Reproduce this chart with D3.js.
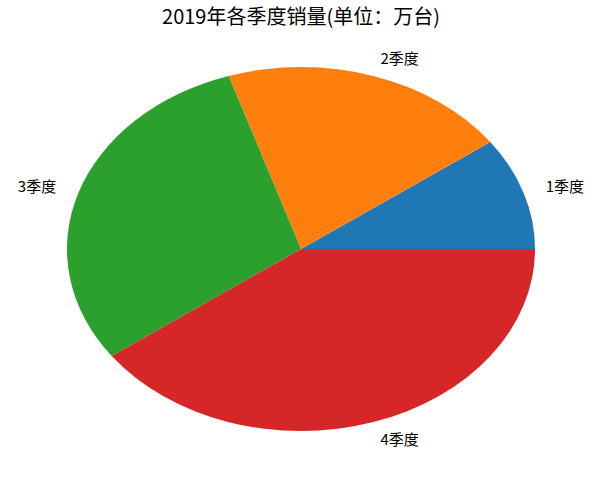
<!DOCTYPE html>
<html>
<head>
<meta charset="utf-8">
<script src="https://cdn.jsdelivr.net/npm/d3@7"></script>
<style>
  body { margin: 0; background: #fff; }
  text { font-family: "Noto Sans CJK SC", "DejaVu Sans", sans-serif; fill: #000; }
</style>
</head>
<body>
<div id="chart"></div>
<script>
// data
const quarters = ["1季度", "2季度", "3季度", "4季度"];
const sales = [10, 20, 30, 40];
const colors = ["#1f77b4", "#ff7f0e", "#2ca02c", "#d62728"];
const title = "2019年各季度销量(单位：万台)";

const W = 598, H = 481;
const cx = 301, cy = 249;
const rx = 234, ry = 182;

const svg = d3.select("#chart").append("svg")
    .attr("width", W)
    .attr("height", H);

svg.append("text")
    .attr("x", cx)
    .attr("y", 24)
    .attr("text-anchor", "middle")
    .style("font-size", "20px")
    .text(title);

// matplotlib style: start at 3 o'clock, go counterclockwise
const pie = d3.pie()
    .sort(null)
    .startAngle(Math.PI / 2)
    .endAngle(Math.PI / 2 - 2 * Math.PI);

const arcs = pie(sales);
const arc = d3.arc().innerRadius(0).outerRadius(1);

const g = svg.append("g")
    .attr("transform", "translate(" + cx + "," + cy + ") scale(" + rx + "," + ry + ")");

g.selectAll("path")
    .data(arcs)
    .join("path")
    .attr("d", arc)
    .attr("fill", function(d, i){ return colors[i]; });

// labels at 1.1 radius along the mid angle
svg.selectAll("text.label")
    .data(arcs)
    .join("text")
    .attr("class", "label")
    .each(function(d, i){
        const a = (d.startAngle + d.endAngle) / 2;
        const x = cx + 1.1 * rx * Math.sin(a);
        const y = cy - 1.1 * ry * Math.cos(a);
        d3.select(this)
            .attr("x", x)
            .attr("y", y)
            .attr("dy", "0.35em")
            .attr("text-anchor", Math.sin(a) >= 0 ? "start" : "end")
            .style("font-size", "15px")
            .text(quarters[i]);
    });
</script>
</body>
</html>
